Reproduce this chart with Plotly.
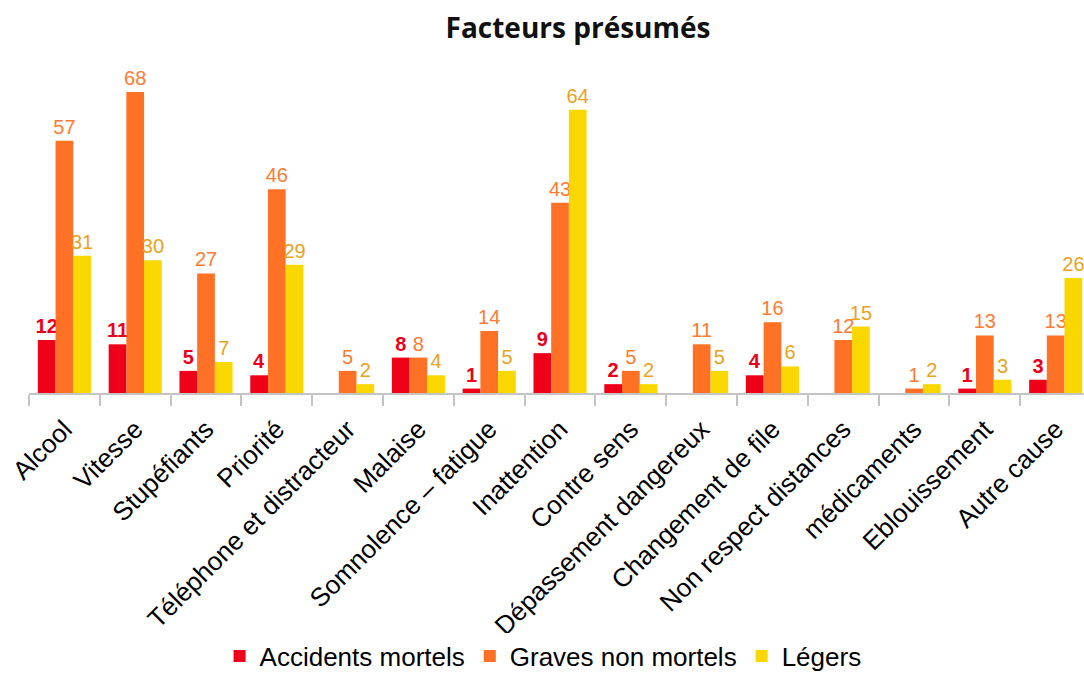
import plotly.graph_objects as go

categories = ["Alcool", "Vitesse", "Stupéfiants", "Priorité", "Téléphone et distracteur",
              "Malaise", "Somnolence – fatigue", "Inattention", "Contre sens",
              "Dépassement dangereux", "Changement de file", "Non respect distances",
              "médicaments", "Eblouissement", "Autre cause"]
mortels = [12, 11, 5, 4, None, 8, 1, 9, 2, None, 4, None, None, 1, 3]
graves = [57, 68, 27, 46, 5, 8, 14, 43, 5, 11, 16, 12, 1, 13, 13]
legers = [31, 30, 7, 29, 2, 4, 5, 64, 2, 5, 6, 15, 2, 3, 26]

series = [
    ("Accidents mortels", mortels, "#EF0019", "#E8001C", True),
    ("Graves non mortels", graves, "#FF7124", "#FF7A33", False),
    ("Légers", legers, "#FBD700", "#E9A21C", False),
]

fig = go.Figure()
for name, vals, col, tcol, bold in series:
    txt = ["" if v is None else (f"<b>{v}</b>" if bold else str(v)) for v in vals]
    fig.add_trace(go.Bar(
        name=name, x=categories, y=vals, marker_color=col, marker_line_width=0,
        text=txt, texttemplate="%{text}", textposition="outside",
        textfont=dict(color=tcol, size=20, family="Liberation Sans, Arial"),
        constraintext="none", cliponaxis=False,
    ))

fig.update_layout(
    width=1084, height=674,
    barmode="group", bargap=0.25, bargroupgap=0,
    plot_bgcolor="white", paper_bgcolor="white",
    margin=dict(l=29, r=0, t=61, b=281, autoexpand=False),
    font=dict(family="Liberation Sans, Arial", color="black"),
    title=dict(text="<b>Facteurs présumés</b>", x=578 / 1084, xanchor="center",
               xref="container", y=1 - 28 / 674, yref="container", yanchor="middle",
               font=dict(family="Open Sans", size=28, color="#111111")),
    legend=dict(orientation="h", xref="container", x=0.501, xanchor="center",
                yref="container", y=1 - 656 / 674, yanchor="middle",
                font=dict(size=26, color="black"), itemsizing="constant"),
    xaxis=dict(range=[-0.5, 14.4], showline=True, linecolor="#C4C4C4", linewidth=1.5,
               ticks="outside", tickson="boundaries", ticklen=11, tickcolor="#C4C4C4",
               tickwidth=1.5, tickangle=-45, tickfont=dict(size=26, color="black"),
               ticklabelstandoff=9, showgrid=False, automargin=False),
    yaxis=dict(range=[0, 75], visible=False, showgrid=False, automargin=False),
)

fig.write_html("out.html", config={"displayModeBar": False},
               post_script="document.body.style.margin='0';document.body.style.overflow='hidden';")
